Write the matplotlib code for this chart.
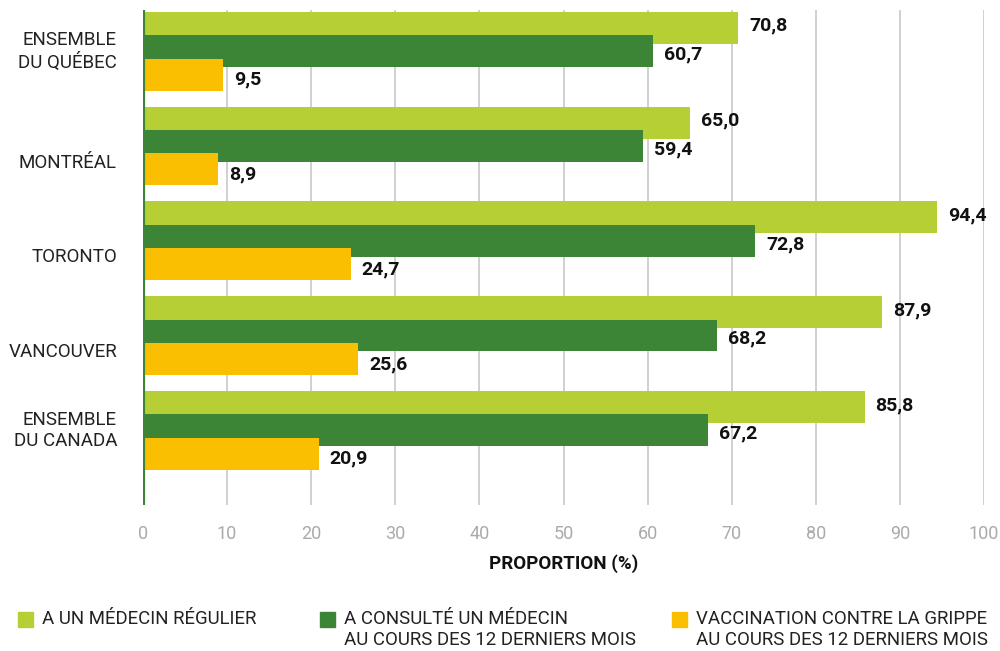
import matplotlib
matplotlib.use("Agg")
import matplotlib.pyplot as plt
from matplotlib.patches import Rectangle
from matplotlib.transforms import offset_copy, blended_transform_factory

plt.rcParams['font.family'] = ['Roboto', 'DejaVu Sans']

categories = ["ENSEMBLE\nDU QUÉBEC", "MONTRÉAL", "TORONTO", "VANCOUVER", "ENSEMBLE\nDU CANADA"]
series_names = ["A UN MÉDECIN RÉGULIER",
                "A CONSULTÉ UN MÉDECIN\nAU COURS DES 12 DERNIERS MOIS",
                "VACCINATION CONTRE LA GRIPPE\nAU COURS DES 12 DERNIERS MOIS"]
regulier = [70.8, 65.0, 94.4, 87.9, 85.8]
consulte = [60.7, 59.4, 72.8, 68.2, 67.2]
vaccination = [9.5, 8.9, 24.7, 25.6, 20.9]
xticks = [0, 10, 20, 30, 40, 50, 60, 70, 80, 90, 100]

colors = ["#b5cf34", "#3d8536", "#f9bf00"]
series = [regulier, consulte, vaccination]

fig = plt.figure(figsize=(10, 6.51), dpi=100)
ax = fig.add_axes([0.143, 0.224, 0.841, 0.761])

bar_h = 0.337
offsets = [-0.247, 0.0, 0.247]
label_shift = [-0.02, 0.035, 0.055]
ypos = list(range(len(categories)))

for i, (vals, col) in enumerate(zip(series, colors)):
    ys = [y + offsets[i] for y in ypos]
    ax.barh(ys, vals, height=bar_h, color=col, zorder=2 + i)
    trans = offset_copy(ax.transData, fig=fig, x=11, y=0, units='dots')
    for y, v in zip(ys, vals):
        ax.text(v, y + label_shift[i], f"{v:.1f}".replace(".", ","), transform=trans,
                ha='left', va='center', fontsize=14, fontweight='bold',
                color='#111111', zorder=10)

ax.set_xlim(0, 100)
ax.set_ylim(len(categories) - 1 + 0.79, -0.437)
ax.set_xticks(xticks)
ax.set_xticklabels([str(t) for t in xticks], color='#aaaaaa', fontsize=13)
ax.set_yticks([])
ax.tick_params(axis='x', length=0, pad=14)
ax.grid(axis='x', color='#c8c8c8', linewidth=1.2, zorder=0)
for s in ax.spines.values():
    s.set_visible(False)
ax.axvline(0, color='#3d8536', linewidth=3, zorder=6)

# Category labels
ctrans = blended_transform_factory(fig.transFigure, ax.transData)
for y, cat in zip(ypos, categories):
    shift = 0.0 if "\n" in cat else 0.175
    ax.text(117 / 1000, y + shift, cat, transform=ctrans, ha='right', va='center',
            fontsize=13.5, color='#222222', linespacing=1.25)

ax.set_xlabel("PROPORTION (%)", fontsize=13.5, fontweight='bold', color='#111111', labelpad=8)

# Legend
leg_x = [0.018, 0.320, 0.672]
for x, name, col in zip(leg_x, series_names, colors):
    fig.patches.append(Rectangle((x, 1 - 627 / 651), 0.015, 15 / 651,
                                 transform=fig.transFigure, color=col, figure=fig))
    fig.text(x + 0.024, 1 - 610 / 651, name, fontsize=13.4, color='#222222',
             ha='left', va='top', linespacing=1.2)

fig.savefig("out.png", dpi=100)
